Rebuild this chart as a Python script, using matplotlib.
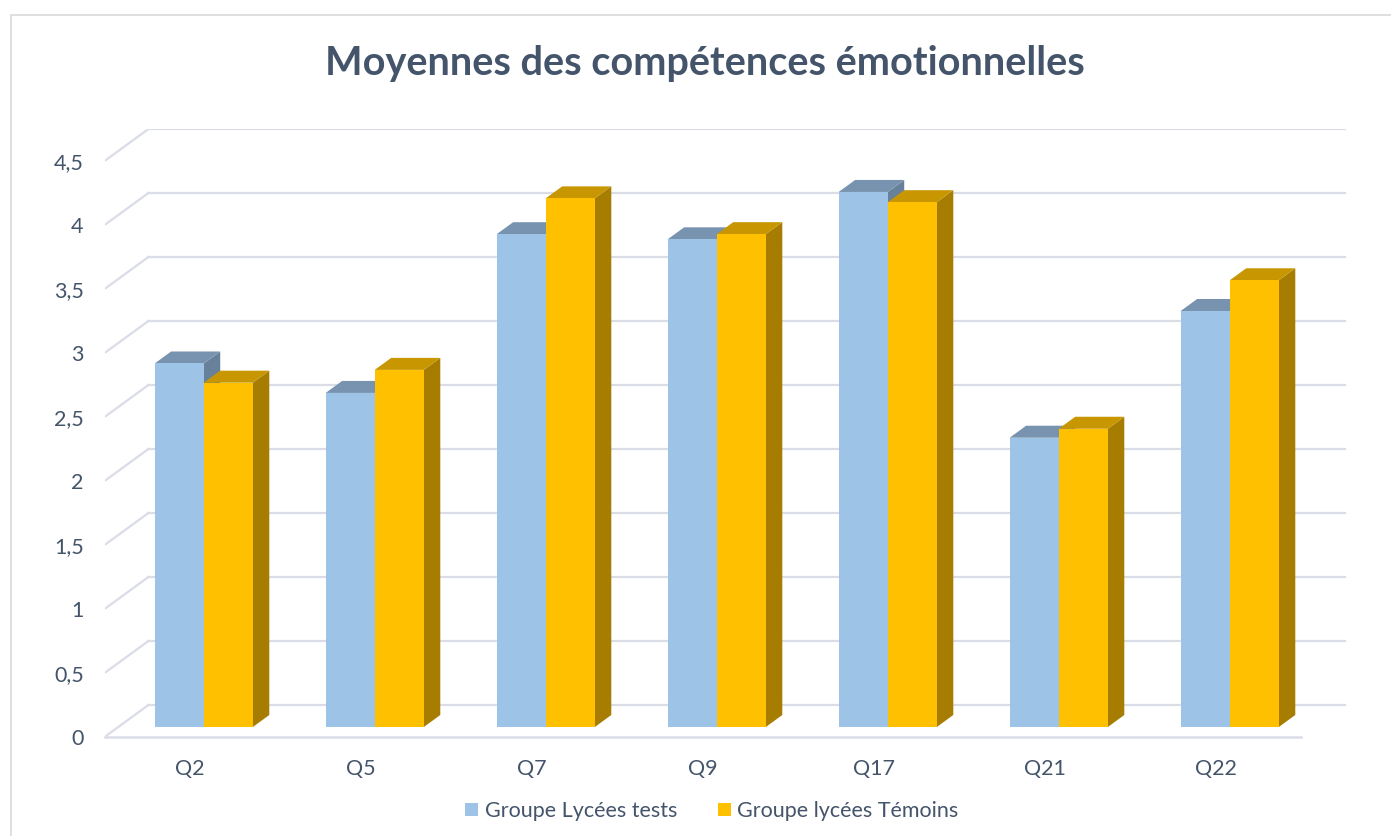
import numpy as np
import matplotlib.pyplot as plt
from matplotlib.patches import Polygon, Patch, Rectangle

# data
categories = ['Q2', 'Q5', 'Q7', 'Q9', 'Q17', 'Q21', 'Q22']
tests = [2.84, 2.61, 3.85, 3.81, 4.18, 2.26, 3.25]
temoins = [2.69, 2.79, 4.13, 3.85, 4.10, 2.33, 3.49]
series_names = ['Groupe Lycées tests', 'Groupe lycées Témoins']
yticks = [0, 0.5, 1, 1.5, 2, 2.5, 3, 3.5, 4, 4.5]
ytick_labels = ['0', '0,5', '1', '1,5', '2', '2,5', '3', '3,5', '4', '4,5']

# colours (front, top, side)
blue = ('#9DC3E6', '#7893AF', '#68819A')
gold = ('#FFC000', '#C89600', '#A67D00')
txt = '#44546A'
grid_col = '#DADDE5'

# fake 3d geometry, in data units
wall_dx, wall_dy = 0.257, 0.25      # depth of the floor
bar_off = 0.3125                    # where bars sit in depth
bar_depth = 0.375
bw = 0.287

plt.rcParams['font.family'] = ['Lato', 'DejaVu Sans']

fig = plt.figure(figsize=(13.91, 8.36), dpi=100)
ax = fig.add_axes([104.5 / 1391, 99 / 836, 1248.3 / 1391, 608 / 836])
ax.set_xlim(-0.5, 6.8)
ax.set_ylim(0, 4.75)
for s in ax.spines.values():
    s.set_visible(False)

# walls / gridlines
x0, x1 = -0.5, 6.5
for v in yticks:
    ax.plot([x0 + wall_dx, x1 + wall_dx], [v + wall_dy, v + wall_dy], color=grid_col, lw=1.6, zorder=1)
    ax.plot([x0, x0 + wall_dx], [v, v + wall_dy], color=grid_col, lw=1.6, zorder=1)
ax.plot([x0, x1], [0, 0], color=grid_col, lw=1.8, zorder=1, clip_on=False)


def box(x_left, val, cols):
    ox = bar_off * wall_dx
    oy = bar_off * wall_dy
    ddx = bar_depth * wall_dx
    ddy = bar_depth * wall_dy
    xl = x_left + ox
    xr = xl + bw
    side = [(xr, oy), (xr + ddx, oy + ddy), (xr + ddx, val + oy + ddy), (xr, val + oy)]
    top = [(xl, val + oy), (xr, val + oy), (xr + ddx, val + oy + ddy), (xl + ddx, val + oy + ddy)]
    ax.add_patch(Polygon(side, closed=True, facecolor=cols[2], edgecolor='none', zorder=3))
    ax.add_patch(Polygon(top, closed=True, facecolor=cols[1], edgecolor='none', zorder=3))
    ax.bar(xl, val, width=bw, bottom=oy, align='edge', color=cols[0], edgecolor='none', zorder=3)


x = np.arange(len(categories))
for i in x:
    box(i - bw, tests[i], blue)
    box(i, temoins[i], gold)

ax.set_xticks(x)
ax.set_xticklabels(categories)
ax.set_yticks(yticks)
ax.set_yticklabels(ytick_labels)
ax.tick_params(axis='x', length=0, pad=16, labelsize=15.5, labelcolor=txt)
ax.tick_params(axis='y', length=0, pad=15, labelsize=15.5, labelcolor=txt)

fig.text(705 / 1391, 1 - 63 / 836, 'Moyennes des compétences émotionnelles',
         ha='center', va='center', fontsize=28.5, fontweight='bold', color=txt)

handles = [Patch(facecolor=blue[0]), Patch(facecolor=gold[0])]
fig.legend(handles, series_names, loc='center', bbox_to_anchor=(712 / 1391, 1 - 811 / 836),
           ncol=2, frameon=False, fontsize=15.5, labelcolor=txt, handlelength=0.6,
           handleheight=0.6, handletextpad=0.3, columnspacing=1.9)

# outer frame
fig.patches.append(Rectangle((11 / 1391, -0.1), 2, 1.1 - 15 / 836, transform=fig.transFigure,
                             fill=False, edgecolor='#D9D9D9', lw=1.2))

fig.savefig('out.png', dpi=100)
